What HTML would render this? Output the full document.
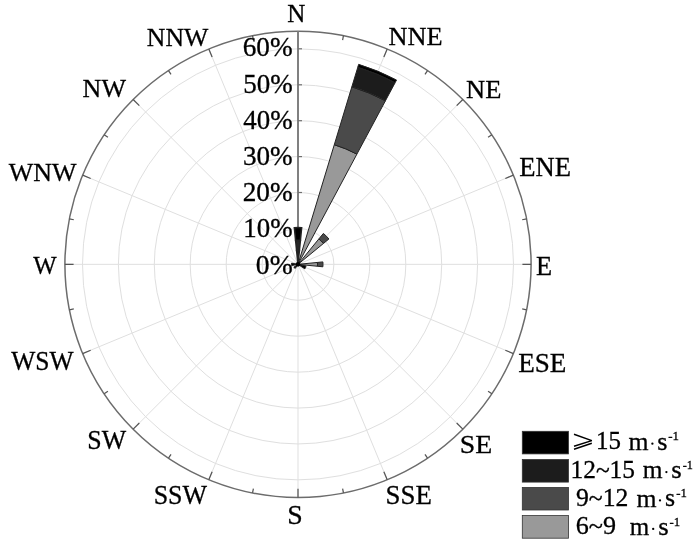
<!DOCTYPE html>
<html><head><meta charset="utf-8"><style>html,body{margin:0;padding:0;background:#fff}svg{display:block;will-change:transform}text{font-family:"Liberation Serif",serif;fill:#000;stroke:#000;stroke-width:0.3px}</style></head><body>
<svg width="700" height="543" viewBox="0 0 700 543">
<rect width="700" height="543" fill="#fff"/>
<circle cx="298.0" cy="264.35" r="35.9" fill="none" stroke="#dfdfdf" stroke-width="1"/>
<circle cx="298.0" cy="264.35" r="71.8" fill="none" stroke="#dfdfdf" stroke-width="1"/>
<circle cx="298.0" cy="264.35" r="107.8" fill="none" stroke="#dfdfdf" stroke-width="1"/>
<circle cx="298.0" cy="264.35" r="143.7" fill="none" stroke="#dfdfdf" stroke-width="1"/>
<circle cx="298.0" cy="264.35" r="179.6" fill="none" stroke="#dfdfdf" stroke-width="1"/>
<circle cx="298.0" cy="264.35" r="215.5" fill="none" stroke="#dfdfdf" stroke-width="1"/>
<line x1="298.0" y1="264.35" x2="298.00" y2="31.25" stroke="#dfdfdf" stroke-width="1"/>
<line x1="298.0" y1="264.35" x2="387.20" y2="48.99" stroke="#dfdfdf" stroke-width="1"/>
<line x1="298.0" y1="264.35" x2="462.83" y2="99.52" stroke="#dfdfdf" stroke-width="1"/>
<line x1="298.0" y1="264.35" x2="513.36" y2="175.15" stroke="#dfdfdf" stroke-width="1"/>
<line x1="298.0" y1="264.35" x2="531.10" y2="264.35" stroke="#dfdfdf" stroke-width="1"/>
<line x1="298.0" y1="264.35" x2="513.36" y2="353.55" stroke="#dfdfdf" stroke-width="1"/>
<line x1="298.0" y1="264.35" x2="462.83" y2="429.18" stroke="#dfdfdf" stroke-width="1"/>
<line x1="298.0" y1="264.35" x2="387.20" y2="479.71" stroke="#dfdfdf" stroke-width="1"/>
<line x1="298.0" y1="264.35" x2="298.00" y2="497.45" stroke="#dfdfdf" stroke-width="1"/>
<line x1="298.0" y1="264.35" x2="208.80" y2="479.71" stroke="#dfdfdf" stroke-width="1"/>
<line x1="298.0" y1="264.35" x2="133.17" y2="429.18" stroke="#dfdfdf" stroke-width="1"/>
<line x1="298.0" y1="264.35" x2="82.64" y2="353.55" stroke="#dfdfdf" stroke-width="1"/>
<line x1="298.0" y1="264.35" x2="64.90" y2="264.35" stroke="#dfdfdf" stroke-width="1"/>
<line x1="298.0" y1="264.35" x2="82.64" y2="175.15" stroke="#dfdfdf" stroke-width="1"/>
<line x1="298.0" y1="264.35" x2="133.17" y2="99.52" stroke="#dfdfdf" stroke-width="1"/>
<line x1="298.0" y1="264.35" x2="208.80" y2="48.99" stroke="#dfdfdf" stroke-width="1"/>
<circle cx="298.0" cy="264.35" r="233.1" fill="none" stroke="#6c6c6c" stroke-width="1.5"/>
<line x1="298.00" y1="31.25" x2="298.00" y2="39.95" stroke="#555" stroke-width="1.25"/>
<line x1="343.48" y1="35.73" x2="342.60" y2="40.14" stroke="#555" stroke-width="1.25"/>
<line x1="387.20" y1="48.99" x2="383.87" y2="57.03" stroke="#555" stroke-width="1.25"/>
<line x1="427.50" y1="70.53" x2="425.00" y2="74.28" stroke="#555" stroke-width="1.25"/>
<line x1="462.83" y1="99.52" x2="456.67" y2="105.68" stroke="#555" stroke-width="1.25"/>
<line x1="491.82" y1="134.85" x2="488.07" y2="137.35" stroke="#555" stroke-width="1.25"/>
<line x1="513.36" y1="175.15" x2="505.32" y2="178.48" stroke="#555" stroke-width="1.25"/>
<line x1="526.62" y1="218.87" x2="522.21" y2="219.75" stroke="#555" stroke-width="1.25"/>
<line x1="531.10" y1="264.35" x2="522.40" y2="264.35" stroke="#555" stroke-width="1.25"/>
<line x1="526.62" y1="309.83" x2="522.21" y2="308.95" stroke="#555" stroke-width="1.25"/>
<line x1="513.36" y1="353.55" x2="505.32" y2="350.22" stroke="#555" stroke-width="1.25"/>
<line x1="491.82" y1="393.85" x2="488.07" y2="391.35" stroke="#555" stroke-width="1.25"/>
<line x1="462.83" y1="429.18" x2="456.67" y2="423.02" stroke="#555" stroke-width="1.25"/>
<line x1="427.50" y1="458.17" x2="425.00" y2="454.42" stroke="#555" stroke-width="1.25"/>
<line x1="387.20" y1="479.71" x2="383.87" y2="471.67" stroke="#555" stroke-width="1.25"/>
<line x1="343.48" y1="492.97" x2="342.60" y2="488.56" stroke="#555" stroke-width="1.25"/>
<line x1="298.00" y1="497.45" x2="298.00" y2="488.75" stroke="#555" stroke-width="1.25"/>
<line x1="252.52" y1="492.97" x2="253.40" y2="488.56" stroke="#555" stroke-width="1.25"/>
<line x1="208.80" y1="479.71" x2="212.13" y2="471.67" stroke="#555" stroke-width="1.25"/>
<line x1="168.50" y1="458.17" x2="171.00" y2="454.42" stroke="#555" stroke-width="1.25"/>
<line x1="133.17" y1="429.18" x2="139.33" y2="423.02" stroke="#555" stroke-width="1.25"/>
<line x1="104.18" y1="393.85" x2="107.93" y2="391.35" stroke="#555" stroke-width="1.25"/>
<line x1="82.64" y1="353.55" x2="90.68" y2="350.22" stroke="#555" stroke-width="1.25"/>
<line x1="69.38" y1="309.83" x2="73.79" y2="308.95" stroke="#555" stroke-width="1.25"/>
<line x1="64.90" y1="264.35" x2="73.60" y2="264.35" stroke="#555" stroke-width="1.25"/>
<line x1="69.38" y1="218.87" x2="73.79" y2="219.75" stroke="#555" stroke-width="1.25"/>
<line x1="82.64" y1="175.15" x2="90.68" y2="178.48" stroke="#555" stroke-width="1.25"/>
<line x1="104.18" y1="134.85" x2="107.93" y2="137.35" stroke="#555" stroke-width="1.25"/>
<line x1="133.17" y1="99.52" x2="139.33" y2="105.68" stroke="#555" stroke-width="1.25"/>
<line x1="168.50" y1="70.53" x2="171.00" y2="74.28" stroke="#555" stroke-width="1.25"/>
<line x1="208.80" y1="48.99" x2="212.13" y2="57.03" stroke="#555" stroke-width="1.25"/>
<line x1="252.52" y1="35.73" x2="253.40" y2="40.14" stroke="#555" stroke-width="1.25"/>
<line x1="298.0" y1="264.35" x2="298.0" y2="31.25000000000003" stroke="#808080" stroke-width="2"/>
<line x1="298.0" y1="264.4" x2="302.0" y2="264.4" stroke="#707070" stroke-width="1.2"/>
<line x1="298.0" y1="228.4" x2="302.0" y2="228.4" stroke="#707070" stroke-width="1.2"/>
<line x1="298.0" y1="192.5" x2="302.0" y2="192.5" stroke="#707070" stroke-width="1.2"/>
<line x1="298.0" y1="156.6" x2="302.0" y2="156.6" stroke="#707070" stroke-width="1.2"/>
<line x1="298.0" y1="120.7" x2="302.0" y2="120.7" stroke="#707070" stroke-width="1.2"/>
<line x1="298.0" y1="84.8" x2="302.0" y2="84.8" stroke="#707070" stroke-width="1.2"/>
<line x1="298.0" y1="48.8" x2="302.0" y2="48.8" stroke="#707070" stroke-width="1.2"/>
<path d="M298.00,264.35 L296.63,250.42 A14.00,14.00 0 0 1 299.37,250.42 L298.00,264.35 Z" fill="#1c1c1c" stroke="#222" stroke-width="1.6" stroke-linejoin="miter"/>
<path d="M296.63,250.42 L295.65,240.47 A24.00,24.00 0 0 1 300.35,240.47 L299.37,250.42 A14.00,14.00 0 0 0 296.63,250.42 Z" fill="#262626" stroke="#222" stroke-width="1.6" stroke-linejoin="miter"/>
<path d="M295.65,240.47 L294.39,227.73 A36.80,36.80 0 0 1 301.61,227.73 L300.35,240.47 A24.00,24.00 0 0 0 295.65,240.47 Z" fill="#000000" stroke="#222" stroke-width="1.6" stroke-linejoin="miter"/>
<path d="M298.00,264.35 L334.29,144.73 A125.00,125.00 0 0 1 356.92,154.11 L298.00,264.35 Z" fill="#999999" stroke="#222" stroke-width="1" stroke-linejoin="miter"/>
<path d="M334.29,144.73 L351.85,86.84 A185.50,185.50 0 0 1 385.44,100.75 L356.92,154.11 A125.00,125.00 0 0 0 334.29,144.73 Z" fill="#4a4a4a" stroke="#222" stroke-width="1" stroke-linejoin="miter"/>
<path d="M351.85,86.84 L357.80,67.22 A206.00,206.00 0 0 1 395.11,82.67 L385.44,100.75 A185.50,185.50 0 0 0 351.85,86.84 Z" fill="#1c1c1c" stroke="#222" stroke-width="1" stroke-linejoin="miter"/>
<path d="M357.80,67.22 L358.67,64.35 A209.00,209.00 0 0 1 396.52,80.03 L395.11,82.67 A206.00,206.00 0 0 0 357.80,67.22 Z" fill="#000000" stroke="#222" stroke-width="1" stroke-linejoin="miter"/>
<path d="M298.00,264.35 L318.93,238.84 A33.00,33.00 0 0 1 323.51,243.42 L298.00,264.35 Z" fill="#999999" stroke="#222" stroke-width="1" stroke-linejoin="miter"/>
<path d="M318.93,238.84 L323.38,233.43 A40.00,40.00 0 0 1 328.92,238.97 L323.51,243.42 A33.00,33.00 0 0 0 318.93,238.84 Z" fill="#4a4a4a" stroke="#222" stroke-width="1" stroke-linejoin="miter"/>
<path d="M298.00,264.35 L317.41,262.44 A19.50,19.50 0 0 1 317.41,266.26 L298.00,264.35 Z" fill="#999999" stroke="#222" stroke-width="1" stroke-linejoin="miter"/>
<path d="M317.41,262.44 L322.88,261.90 A25.00,25.00 0 0 1 322.88,266.80 L317.41,266.26 A19.50,19.50 0 0 0 317.41,262.44 Z" fill="#4a4a4a" stroke="#222" stroke-width="1" stroke-linejoin="miter"/>
<path d="M298.00,264.35 L306.04,265.98 A8.20,8.20 0 0 1 304.84,268.88 L298.00,264.35 Z" fill="#000000" stroke="#222" stroke-width="1" stroke-linejoin="miter"/>
<path d="M298.00,264.35 L295.20,268.50 A5.00,5.00 0 0 1 293.85,267.15 L298.00,264.35 Z" fill="#000000" stroke="#222" stroke-width="1" stroke-linejoin="miter"/>
<path d="M298.00,264.35 L291.62,265.59 A6.50,6.50 0 0 1 291.62,263.11 L298.00,264.35 Z" fill="#000000" stroke="#222" stroke-width="1" stroke-linejoin="miter"/>
<circle cx="298.0" cy="264.35" r="2.3" fill="#000"/>
<text transform="translate(287.30,22.40) scale(0.9600,1)" font-size="26.11">N</text>
<text transform="translate(388.51,44.70) scale(1.0205,1)" font-size="25.80">NNE</text>
<text transform="translate(466.10,97.70) scale(1.0274,1)" font-size="25.80">NE</text>
<text transform="translate(519.20,176.40) scale(0.9911,1)" font-size="26.87">ENE</text>
<text transform="translate(536.11,275.40) scale(0.9944,1)" font-size="26.56">E</text>
<text transform="translate(518.19,372.24) scale(1.0296,1)" font-size="26.32">ESE</text>
<text transform="translate(459.82,452.54) scale(1.0737,1)" font-size="25.87">SE</text>
<text transform="translate(385.59,504.14) scale(1.0146,1)" font-size="26.47">SSE</text>
<text transform="translate(287.22,524.23) scale(1.0234,1)" font-size="27.20">S</text>
<text transform="translate(153.65,504.20) scale(0.9718,1)" font-size="26.72">SSW</text>
<text transform="translate(87.25,448.91) scale(0.9848,1)" font-size="26.27">SW</text>
<text transform="translate(11.30,369.50) scale(0.9654,1)" font-size="26.42">WSW</text>
<text transform="translate(33.27,273.91) scale(0.9600,1)" font-size="25.82">W</text>
<text transform="translate(8.70,181.11) scale(0.9940,1)" font-size="26.12">WNW</text>
<text transform="translate(82.62,97.11) scale(1.0075,1)" font-size="25.80">NW</text>
<text transform="translate(146.83,45.81) scale(0.9914,1)" font-size="25.97">NNW</text>
<text transform="translate(242.74,56.26) scale(1.0035,1)" font-size="27.16">60%</text>
<text transform="translate(243.15,92.57) scale(1.0118,1)" font-size="26.72">50%</text>
<text transform="translate(243.36,128.87) scale(1.0073,1)" font-size="26.72">40%</text>
<text transform="translate(242.91,165.17) scale(1.0167,1)" font-size="26.72">30%</text>
<text transform="translate(242.67,200.97) scale(1.0388,1)" font-size="26.27">20%</text>
<text transform="translate(243.34,237.37) scale(1.0246,1)" font-size="26.27">10%</text>
<text transform="translate(255.86,273.87) scale(1.0405,1)" font-size="26.57">0%</text>
<text transform="translate(595.91,449.24) scale(0.9677,1)" font-size="25.82">15</text>
<text transform="translate(628.49,449.80) scale(0.9971,1)" font-size="25.80">m</text>
<text transform="translate(657.25,449.54) scale(1.0171,1)" font-size="25.80">s</text>
<text transform="translate(668.22,440.40) scale(0.9574,1)" font-size="13.50">-1</text>
<text transform="translate(570.48,477.64) scale(0.9849,1)" font-size="25.80">12~15</text>
<text transform="translate(642.69,478.20) scale(0.9866,1)" font-size="25.80">m</text>
<text transform="translate(671.22,477.94) scale(1.0419,1)" font-size="25.80">s</text>
<text transform="translate(682.74,468.80) scale(0.9070,1)" font-size="13.50">-1</text>
<text transform="translate(575.96,505.94) scale(0.9965,1)" font-size="25.80">9~12</text>
<text transform="translate(636.49,506.50) scale(0.9971,1)" font-size="25.80">m</text>
<text transform="translate(665.06,506.24) scale(1.0047,1)" font-size="25.80">s</text>
<text transform="translate(676.32,497.10) scale(0.9473,1)" font-size="13.50">-1</text>
<text transform="translate(575.69,534.44) scale(1.0132,1)" font-size="25.80">6~9</text>
<text transform="translate(629.80,535.00) scale(0.9709,1)" font-size="25.80">m</text>
<text transform="translate(658.22,534.74) scale(1.0419,1)" font-size="25.80">s</text>
<text transform="translate(669.42,525.60) scale(0.9473,1)" font-size="13.50">-1</text>
<rect x="522.3" y="431.3" width="46.2" height="22.6" fill="#000000" stroke="#333" stroke-width="0.8"/>
<rect x="522.3" y="459.5" width="46.2" height="22.6" fill="#1c1c1c" stroke="#333" stroke-width="0.8"/>
<rect x="522.3" y="487.4" width="46.2" height="22.6" fill="#4a4a4a" stroke="#333" stroke-width="0.8"/>
<rect x="522.3" y="515.6" width="46.2" height="22.6" fill="#999999" stroke="#333" stroke-width="0.8"/>
<circle cx="652.4" cy="443.7" r="1.15" fill="#000"/>
<circle cx="666.4" cy="472.1" r="1.15" fill="#000"/>
<circle cx="660.0" cy="500.4" r="1.15" fill="#000"/>
<circle cx="653.2" cy="528.9" r="1.15" fill="#000"/>
<path d="M574,434.2 L591.8,440.6 L574,446.3 M591.8,443.3 L574,449.2" fill="none" stroke="#000" stroke-width="1.5" stroke-linejoin="bevel"/>
</svg></body></html>
